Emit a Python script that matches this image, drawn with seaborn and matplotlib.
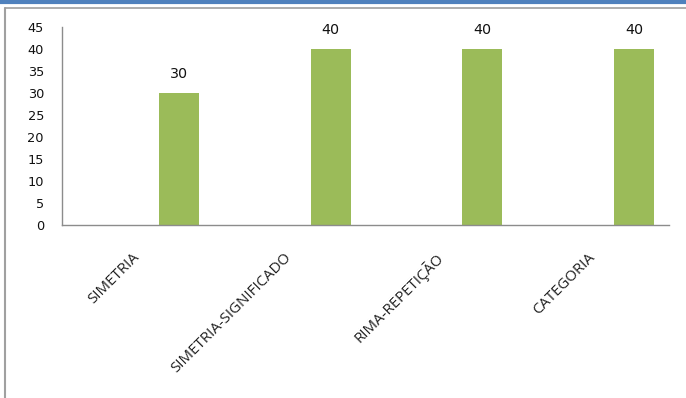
import matplotlib
matplotlib.use("Agg")
import matplotlib.pyplot as plt
import matplotlib.transforms as mtransforms
from matplotlib.lines import Line2D
import seaborn as sns
import pandas as pd

# Categories and the two series of the clustered chart (first series is empty)
categories = ["SIMETRIA", "SIMETRIA-SIGNIFICADO", "RIMA-REPETIÇÃO", "CATEGORIA"]
series_names = ["Série 1", "Série 2"]
series1 = [0, 0, 0, 0]
series2 = [30, 40, 40, 40]
y_ticks = [0, 5, 10, 15, 20, 25, 30, 35, 40, 45]

df = pd.DataFrame({
    "categoria": categories * 2,
    "serie": [series_names[0]] * 4 + [series_names[1]] * 4,
    "valor": series1 + series2,
})

sns.set_style("white")
W, H = 686, 398
fig = plt.figure(figsize=(W / 100, H / 100), dpi=100)
fig.patch.set_facecolor("white")

ax = fig.add_axes([62 / W, 1 - 225 / H, (669 - 62) / W, (225 - 27) / H])

green = "#9BBB59"
sns.barplot(
    data=df, x="categoria", y="valor", hue="serie",
    order=categories, hue_order=series_names,
    palette=["white", green], saturation=1, width=1.08, gap=0.51,
    edgecolor="none", legend=False, ax=ax,
)

ax.set_xlim(-0.5, 3.5)
ax.set_ylim(0, 45)
ax.set_yticks(y_ticks)
ax.set_yticklabels([str(t) for t in y_ticks], fontsize=9.3,
                   family="DejaVu Sans", color="#111111")
ax.tick_params(axis="y", length=0, pad=13)
ax.tick_params(axis="x", length=0, pad=18)
ax.set_xticks(range(len(categories)))
ax.set_xticklabels(categories, rotation=45, ha="right", va="top",
                   rotation_mode="anchor", fontsize=10.8,
                   family="Open Sans", color="#222222")
# nudge the slanted category labels slightly to the left
shift = mtransforms.ScaledTranslation(-6 / 100, 0, fig.dpi_scale_trans)
for lbl in ax.get_xticklabels():
    lbl.set_transform(lbl.get_transform() + shift)
ax.set_xlabel("")
ax.set_ylabel("")

for s in ["top", "right"]:
    ax.spines[s].set_visible(False)
for s in ["left", "bottom"]:
    ax.spines[s].set_color("#8c8c8c")
    ax.spines[s].set_linewidth(1.0)

# value labels over the visible series
bars = ax.containers[1]
for patch, v in zip(bars, series2):
    ax.annotate(str(v), (patch.get_x() + patch.get_width() / 2, v),
                xytext=(0, 8.5), textcoords="offset points",
                ha="center", va="bottom", fontsize=10.3,
                family="DejaVu Sans", color="#111111")

# window frame around the chart
fig.add_artist(Line2D([0, 1], [1 - 1.5 / H, 1 - 1.5 / H], transform=fig.transFigure,
                      color="#4F81BD", linewidth=3))
fig.add_artist(Line2D([5 / W, 1], [1 - 7.5 / H, 1 - 7.5 / H], transform=fig.transFigure,
                      color="#a0a0a0", linewidth=1.2))
fig.add_artist(Line2D([5 / W, 5 / W], [0, 1 - 7.5 / H], transform=fig.transFigure,
                      color="#a0a0a0", linewidth=1.5))

fig.savefig("out.png", dpi=100)
